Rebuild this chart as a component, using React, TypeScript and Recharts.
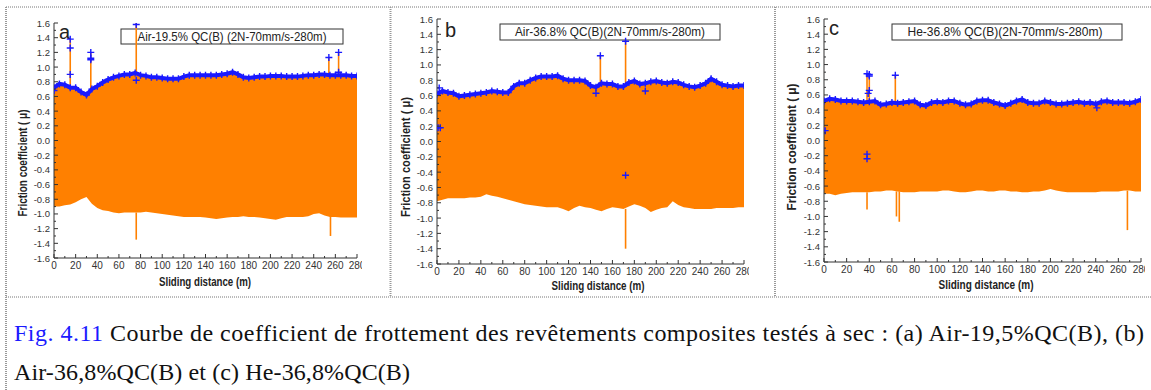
import React from 'react';
import { ComposedChart, Area, Line, Scatter, XAxis, YAxis, ReferenceLine } from 'recharts';

const distance = [0,5,10,15,20,25,30,35,40,45,50,55,60,65,70,75,80,85,90,95,100,105,110,115,120,125,130,135,140,145,150,155,160,165,170,175,180,185,190,195,200,205,210,215,220,225,230,235,240,245,250,255,260,265,270,275,280];

const upperA = [0.72,0.77,0.76,0.72,0.72,0.66,0.62,0.70,0.74,0.79,0.83,0.86,0.88,0.90,0.90,0.92,0.89,0.88,0.86,0.86,0.85,0.84,0.84,0.84,0.87,0.89,0.89,0.89,0.89,0.89,0.89,0.90,0.91,0.93,0.90,0.86,0.85,0.86,0.87,0.87,0.88,0.88,0.88,0.87,0.87,0.87,0.88,0.89,0.89,0.90,0.90,0.89,0.89,0.89,0.89,0.88,0.88];
const lowerA = [-0.90,-0.90,-0.88,-0.87,-0.84,-0.80,-0.77,-0.86,-0.92,-0.95,-0.96,-0.98,-0.99,-0.98,-0.98,-0.98,-0.98,-0.97,-0.98,-0.99,-1.00,-1.01,-1.02,-1.03,-1.04,-1.04,-1.04,-1.04,-1.05,-1.06,-1.07,-1.06,-1.05,-1.04,-1.04,-1.03,-1.04,-1.04,-1.05,-1.06,-1.07,-1.08,-1.06,-1.04,-1.04,-1.04,-1.04,-1.03,-1.00,-0.99,-1.02,-1.04,-1.04,-1.05,-1.05,-1.05,-1.05];

const upperB = [0.62,0.66,0.64,0.63,0.59,0.60,0.61,0.62,0.63,0.64,0.66,0.65,0.64,0.64,0.72,0.76,0.76,0.80,0.83,0.85,0.85,0.85,0.86,0.82,0.80,0.80,0.80,0.79,0.73,0.71,0.76,0.75,0.75,0.72,0.72,0.77,0.79,0.75,0.76,0.78,0.79,0.77,0.76,0.78,0.77,0.74,0.72,0.71,0.73,0.76,0.82,0.78,0.74,0.73,0.72,0.73,0.73];
const lowerB = [-0.78,-0.76,-0.74,-0.74,-0.74,-0.74,-0.73,-0.73,-0.72,-0.69,-0.71,-0.72,-0.74,-0.76,-0.78,-0.80,-0.82,-0.83,-0.84,-0.85,-0.86,-0.86,-0.86,-0.88,-0.91,-0.87,-0.84,-0.86,-0.87,-0.89,-0.91,-0.88,-0.86,-0.87,-0.88,-0.85,-0.82,-0.84,-0.87,-0.92,-0.89,-0.87,-0.86,-0.78,-0.83,-0.86,-0.87,-0.88,-0.88,-0.88,-0.88,-0.87,-0.87,-0.87,-0.87,-0.86,-0.86];

const upperC = [0.52,0.55,0.54,0.52,0.52,0.52,0.51,0.50,0.51,0.52,0.47,0.48,0.50,0.49,0.50,0.51,0.52,0.47,0.46,0.50,0.51,0.50,0.52,0.52,0.49,0.47,0.48,0.52,0.53,0.53,0.50,0.48,0.46,0.49,0.52,0.54,0.50,0.49,0.49,0.52,0.50,0.48,0.48,0.49,0.50,0.51,0.49,0.50,0.48,0.51,0.52,0.50,0.50,0.50,0.49,0.51,0.54];
const lowerC = [-0.70,-0.70,-0.72,-0.70,-0.69,-0.68,-0.68,-0.68,-0.68,-0.67,-0.67,-0.66,-0.66,-0.67,-0.68,-0.68,-0.68,-0.67,-0.67,-0.67,-0.67,-0.66,-0.66,-0.67,-0.68,-0.68,-0.67,-0.66,-0.66,-0.67,-0.67,-0.66,-0.66,-0.67,-0.67,-0.68,-0.68,-0.67,-0.67,-0.66,-0.64,-0.66,-0.67,-0.68,-0.68,-0.68,-0.68,-0.68,-0.68,-0.67,-0.67,-0.67,-0.67,-0.66,-0.66,-0.67,-0.67];

const spikeXA = [15,34,76,254,263,76,255.5];
const spikeFromA = [0.72,0.70,0.92,0.89,0.89,-0.98,-1.04];
const spikeToA = [1.38,1.20,1.60,1.13,1.20,-1.35,-1.30];
const spikeXB = [149,172,172];
const spikeFromB = [0.76,0.72,-0.88];
const spikeToB = [1.12,1.32,-1.40];
const spikeXC = [38,40,63,38,64,66.5,268];
const spikeFromC = [0.50,0.51,0.50,-0.68,-0.67,-0.67,-0.66];
const spikeToC = [0.88,0.86,0.86,-0.91,-1.00,-1.07,-1.18];

const pointXA = [0,15,15,15,34,34,34,76,76,254,263,263];
const pointYA = [0.68,1.38,1.26,0.90,1.20,1.12,1.10,1.58,0.82,1.13,1.20,0.93];
const pointXB = [1,3,2,149,172,172,145,190];
const pointYB = [0.18,0.18,0.70,1.12,1.31,-0.44,0.63,0.66];
const pointXC = [1,38,40,40,40,39,63,38,38,241];
const pointYC = [0.13,0.88,0.87,0.85,0.66,0.62,0.86,-0.18,-0.24,0.43];

const xTicks = [0,10,20,30,40,50,60,70,80,90,100,110,120,130,140,150,160,170,180,190,200,210,220,230,240,250,260,270,280];
const yTicks = [-1.6,-1.5,-1.4,-1.3,-1.2,-1.1,-1.0,-0.9,-0.8,-0.7,-0.6,-0.5,-0.4,-0.3,-0.2,-0.1,0,0.1,0.2,0.3,0.4,0.5,0.6,0.7,0.8,0.9,1.0,1.1,1.2,1.3,1.4,1.5,1.6];

const titles = ['Air-19.5% QC(B) (2N-70mm/s-280m)', 'Air-36.8% QC(B)(2N-70mm/s-280m)', 'He-36.8% QC(B)(2N-70mm/s-280m)'];
const letters = ['a', 'b', 'c'];
const xTitle = 'Sliding distance (m)';
const yTitle = 'Friction coefficient ( \u03bc)';
const captionFig = 'Fig. 4.11';
const captionLine1 = ' Courbe de coefficient de frottement des rev\u00eatements composites test\u00e9s \u00e0 sec : (a) Air-19,5%QC(B), (b)';
const captionLine2 = 'Air-36,8%QC(B) et (c) He-36,8%QC(B)';

const ORANGE = '#ff8000';
const BLUE = '#1a1aff';
const AX = '#333';
const SANS = '"Liberation Sans", Arial, sans-serif';
const SERIF = '"Liberation Serif", "Times New Roman", serif';

const isMajorX = (v: number) => Math.round(v) % 20 === 0;
const isMajorY = (v: number) => Math.round(Math.abs(v) * 10) % 2 === 0;

const BottomTick = (p: any) => {
  const v = p.payload.value;
  const major = isMajorX(v);
  return (
    <g>
      <line x1={p.x} y1={p.y} x2={p.x} y2={p.y - (major ? 4 : 2)} stroke={AX} strokeWidth={1} />
      {major && (
        <text x={p.x} y={p.y + 11} textAnchor="middle" fontSize={10} fill={AX} fontFamily={SANS}>{v}</text>
      )}
    </g>
  );
};
const TopTick = (p: any) => {
  const major = isMajorX(p.payload.value);
  return <line x1={p.x} y1={p.y} x2={p.x} y2={p.y + (major ? 4 : 2)} stroke={AX} strokeWidth={1} />;
};
const LeftTick = (p: any) => {
  const v = p.payload.value;
  const major = isMajorY(v);
  return (
    <g>
      <line x1={p.x} y1={p.y} x2={p.x + (major ? 4 : 2)} y2={p.y} stroke={AX} strokeWidth={1} />
      {major && (
        <text x={p.x - 4} y={p.y + 3.5} textAnchor="end" fontSize={9.5} fill={AX} fontFamily={SANS}>{v.toFixed(1)}</text>
      )}
    </g>
  );
};
const RightTick = (p: any) => {
  const major = isMajorY(p.payload.value);
  return <line x1={p.x} y1={p.y} x2={p.x - (major ? 4 : 2)} y2={p.y} stroke={AX} strokeWidth={1} />;
};

const Cross = (p: any) => (
  <path d={`M${p.cx - 3.5},${p.cy}h7M${p.cx},${p.cy - 3.5}v7`} stroke={BLUE} strokeWidth={1.4} fill="none" />
);

type PanelCfg = {
  left: number; top: number; width: number; height: number;
  mTop: number; mRight: number; yw: number; xh: number;
  upper: number[]; lower: number[];
  sx: number[]; sf: number[]; st: number[];
  px: number[]; py: number[];
};

const panels: PanelCfg[] = [
  { left: 7, top: 8, width: 355, height: 288, mTop: 15, mRight: 5, yw: 47, xh: 38, upper: upperA, lower: lowerA, sx: spikeXA, sf: spikeFromA, st: spikeToA, px: pointXA, py: pointYA },
  { left: 392, top: 8, width: 357, height: 288, mTop: 11, mRight: 5, yw: 45, xh: 32, upper: upperB, lower: lowerB, sx: spikeXB, sf: spikeFromB, st: spikeToB, px: pointXB, py: pointYB },
  { left: 776, top: 8, width: 369, height: 288, mTop: 11, mRight: 4, yw: 48, xh: 34, upper: upperC, lower: lowerC, sx: spikeXC, sf: spikeFromC, st: spikeToC, px: pointXC, py: pointYC },
];

const Panel = ({ cfg }: { cfg: PanelCfg }) => {
  const band = distance.map((x, i) => ({ x, range: [cfg.lower[i], cfg.upper[i]], hi: cfg.upper[i] }));
  const pts = cfg.px.map((x, i) => ({ x, y: cfg.py[i] }));
  return (
    <div style={{ position: 'absolute', left: cfg.left, top: cfg.top }}>
      <ComposedChart width={cfg.width} height={cfg.height} margin={{ top: cfg.mTop, right: cfg.mRight, left: 0, bottom: 0 }}>
        <XAxis xAxisId={0} dataKey="x" type="number" domain={[0, 280]} ticks={xTicks} interval={0} height={cfg.xh}
          tickSize={0} tickMargin={0} tick={<BottomTick />} axisLine={{ stroke: AX }} tickLine={false} allowDataOverflow />
        <XAxis xAxisId="t" orientation="top" dataKey="x" type="number" domain={[0, 280]} ticks={xTicks} interval={0} height={0}
          tickSize={0} tickMargin={0} tick={<TopTick />} axisLine={{ stroke: AX }} tickLine={false} allowDataOverflow />
        <YAxis yAxisId={0} type="number" domain={[-1.6, 1.6]} ticks={yTicks} interval={0} width={cfg.yw}
          tickSize={0} tickMargin={0} tick={<LeftTick />} axisLine={{ stroke: AX }} tickLine={false} allowDataOverflow />
        <YAxis yAxisId="r" orientation="right" type="number" domain={[-1.6, 1.6]} ticks={yTicks} interval={0} width={0}
          tickSize={0} tickMargin={0} tick={<RightTick />} axisLine={{ stroke: AX }} tickLine={false} allowDataOverflow />
        <Area data={band} dataKey="range" type="linear" stroke="none" fill={ORANGE} fillOpacity={1} isAnimationActive={false} />
        {cfg.sx.map((x, i) => (
          <ReferenceLine key={i} segment={[{ x, y: cfg.sf[i] }, { x, y: cfg.st[i] }]} stroke={ORANGE} strokeWidth={1.6} />
        ))}
        <Line data={band} dataKey="hi" type="linear" stroke={BLUE} strokeWidth={4} dot={false} isAnimationActive={false} />
        <Scatter data={band.map((d) => ({ x: d.x, y: d.hi }))} dataKey="y" shape={<Cross />} isAnimationActive={false} />
        <Scatter data={pts} dataKey="y" shape={<Cross />} isAnimationActive={false} />
      </ComposedChart>
    </div>
  );
};

// Decorations: frames, label boxes, axis titles, caption
const boxes = [
  { x: 121, y: 29, w: 222, h: 15, tx: 232, ty: 40.5, tl: 189 },
  { x: 500, y: 24, w: 220, h: 16, tx: 610, ty: 36, tl: 190 },
  { x: 892, y: 24, w: 230, h: 16, tx: 1005, ty: 36, tl: 195 },
];
const letterPos = [{ x: 59, y: 39 }, { x: 445, y: 37 }, { x: 829, y: 35 }];
const xTitlePos = [{ x: 205, y: 286, l: 92 }, { x: 598, y: 290, l: 93 }, { x: 986, y: 289, l: 95 }];
const yTitlePos = [{ x: 27, y: 163, l: 107 }, { x: 410, y: 157, l: 120 }, { x: 796, y: 147, l: 127 }];

export default function App() {
  return (
    <div style={{ position: 'absolute', left: 0, top: 0, width: 1151, height: 390, background: '#fff', overflow: 'hidden' }}>
      <svg width={1151} height={390} style={{ position: 'absolute', left: 0, top: 0 }}>
        <line x1={6} y1={7} x2={1151} y2={7} stroke="#777" strokeWidth={1} strokeDasharray="1 1" />
        <line x1={6} y1={297} x2={1151} y2={297} stroke="#777" strokeWidth={1} strokeDasharray="1 1" />
        <line x1={6} y1={7} x2={6} y2={390} stroke="#999" strokeWidth={2} strokeDasharray="1 1" />
        <line x1={390.5} y1={7} x2={390.5} y2={297} stroke="#999" strokeWidth={2} strokeDasharray="1 1" />
        <line x1={775} y1={7} x2={775} y2={297} stroke="#999" strokeWidth={2} strokeDasharray="1 1" />
        {boxes.map((b, i) => (
          <g key={i}>
            <rect x={b.x} y={b.y} width={b.w} height={b.h} fill="#fff" stroke="#333" strokeWidth={1} />
            <text x={b.tx} y={b.ty} textAnchor="middle" fontSize={12} fill="#222" fontFamily={SANS}
              textLength={b.tl} lengthAdjust="spacingAndGlyphs">{titles[i]}</text>
          </g>
        ))}
        {letterPos.map((p, i) => (
          <text key={i} x={p.x} y={p.y} fontSize={20} fill="#222" fontFamily={SANS}>{letters[i]}</text>
        ))}
        {xTitlePos.map((p, i) => (
          <text key={i} x={p.x} y={p.y} textAnchor="middle" fontSize={12} fontWeight="bold" fill="#222" fontFamily={SANS}
            textLength={p.l} lengthAdjust="spacingAndGlyphs">{xTitle}</text>
        ))}
        {yTitlePos.map((p, i) => (
          <text key={i} x={p.x} y={p.y} textAnchor="middle" fontSize={12} fontWeight="bold" fill="#222" fontFamily={SANS}
            transform={`rotate(-90 ${p.x} ${p.y})`} textLength={p.l} lengthAdjust="spacingAndGlyphs">{yTitle}</text>
        ))}
        <text x={14} y={341} fontSize={24} fontFamily={SERIF} fill="#111" textLength={1130} lengthAdjust="spacing">
          <tspan fill="#1a1aff">{captionFig}</tspan>{captionLine1}
        </text>
        <text x={14} y={380} fontSize={24} fontFamily={SERIF} fill="#111" textLength={396} lengthAdjust="spacing">
          {captionLine2}
        </text>
      </svg>
      {panels.map((cfg, i) => <Panel key={i} cfg={cfg} />)}
    </div>
  );
}
